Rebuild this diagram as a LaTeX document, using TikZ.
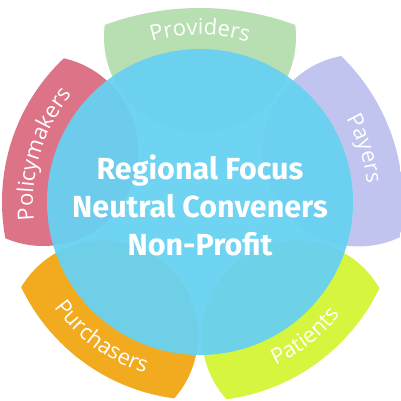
\documentclass[tikz,border=0pt]{standalone}
\usepackage{fontspec}
\usetikzlibrary{decorations.text}
\newfontfamily\labfont{Open Sans}
\newfontfamily\cenfont{Fira Sans}
\definecolor{cblue}{RGB}{104,209,242}
\definecolor{cgreen}{RGB}{183,223,178}
\definecolor{clav}{RGB}{192,196,238}
\definecolor{clime}{RGB}{214,245,62}
\definecolor{corange}{RGB}{242,170,30}
\definecolor{cpink}{RGB}{220,115,135}
\newcommand{\lf}{\labfont\fontsize{22}{22}\selectfont}
\begin{document}
\begin{tikzpicture}[x=1pt,y=1pt,
  hub/.style={circle, fill=cblue, fill opacity=0.95, minimum size=306pt, inner sep=0pt},
  hubtext/.style={text=white, font=\cenfont\bfseries\fontsize{30.5}{38}\selectfont, align=center},
  petallabel/.style={decorate, decoration={text along path, text={|\lf|#1}, text align=center, text color=white}}]
\useasboundingbox (0,0) rectangle (401,400);
\fill[white] (0,0) rectangle (401,400);
\coordinate (O) at (200,198);
% petal circle centres
\coordinate (cProv) at ([shift={(90:165)}]O);
\coordinate (cPay)  at ([shift={(18:167)}]O);
\coordinate (cPat)  at ([shift={(-54:165)}]O);
\coordinate (cPur)  at ([shift={(-126:165)}]O);
\coordinate (cPol)  at ([shift={(162:165)}]O);
\coordinate (kProv) at ([shift={(90:-80)}]O);
% petals
\begin{scope}\clip (kProv) circle (274);\fill[cgreen] (cProv) circle (96);\end{scope}
\begin{scope}\clip (O) circle (203);\fill[clav] (cPay) circle (96);\end{scope}
\begin{scope}\clip (O) circle (199);\fill[clime] (cPat) circle (95);\end{scope}
\begin{scope}\clip (O) circle (198);\fill[corange] (cPur) circle (95);\end{scope}
\begin{scope}\clip (O) circle (198);\fill[cpink] (cPol) circle (95);\end{scope}
% petal labels
\path[petallabel=Providers] ([shift={(130:167)}]O) arc[start angle=130, end angle=50, radius=167];
\path[petallabel=Payers] ([shift={(58:168)}]O) arc[start angle=58, end angle=-22, radius=168];
\path[petallabel=Policymakers] ([shift={(203:167)}]O) arc[start angle=203, end angle=123, radius=167];
\path[petallabel=Patients] ([shift={(-92:180)}]O) arc[start angle=-92, end angle=-12, radius=180];
\path[petallabel=Purchasers] ([shift={(-166:180)}]O) arc[start angle=-166, end angle=-86, radius=180];
% hub
\node[hub] (hub) at (O) {};
\node[hubtext] (hubtxt) at (200,195) {Regional Focus\\Neutral Conveners\\Non-Profit};
\end{tikzpicture}
\end{document}
